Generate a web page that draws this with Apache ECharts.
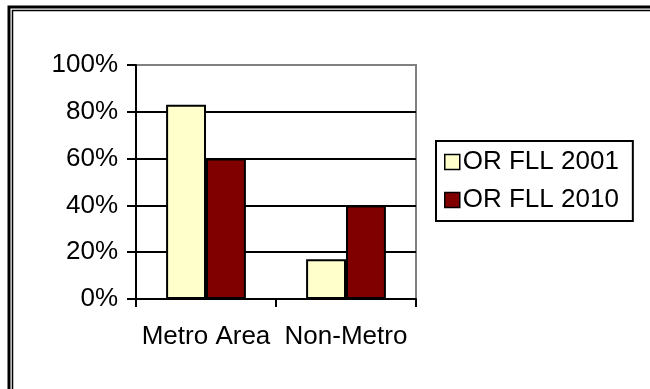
<!DOCTYPE html>
<html>
<head>
<meta charset="utf-8">
<script src="https://cdn.jsdelivr.net/npm/echarts@6/dist/echarts.min.js"></script>
<style>
  html, body { margin: 0; padding: 0; background: #fff; overflow: hidden; }
  #chart { width: 650px; height: 389px; }
</style>
</head>
<body>
<div id="chart"></div>
<script>
// data
var categories = ['Metro Area', 'Non-Metro'];
var seriesNames = ['OR FLL 2001', 'OR FLL 2010'];
var values2001 = [83, 17];
var values2010 = [60, 40];
var yTicks = [0, 20, 40, 60, 80, 100];

var chart = echarts.init(document.getElementById('chart'));

var font = 'Liberation Sans, Arial, sans-serif';

var option = {
  animation: false,
  textStyle: { fontFamily: font, color: '#000' },
  graphic: [
    // double border at the top / left (picture is cropped on the other sides)
    { type: 'polyline', shape: { points: [[9, 389], [9, 7], [650, 7]] },
      style: { fill: null, stroke: '#000', lineWidth: 3 }, silent: true },
    { type: 'polyline', shape: { points: [[12.5, 389], [12.5, 10.5], [650, 10.5]] },
      style: { fill: null, stroke: '#000', lineWidth: 1.5 }, silent: true }
  ],
  grid: {
    left: 136, right: 234, top: 65, bottom: 90,
    show: true, borderColor: '#808080', borderWidth: 2,
    backgroundColor: '#fff'
  },
  legend: {
    orient: 'vertical',
    left: 436, top: 141,
    data: seriesNames,
    itemWidth: 15, itemHeight: 15,
    itemGap: 8,
    itemStyle: { borderColor: '#000', borderWidth: 1.5 },
    padding: [6, 14, 6, 8],
    borderColor: '#000', borderWidth: 2,
    icon: 'rect',
    textStyle: { fontSize: 26, fontFamily: font, color: '#000', lineHeight: 30, padding: [0, 0, 0, -2] }
  },
  xAxis: {
    type: 'category',
    data: categories,
    axisLine: { lineStyle: { color: '#000', width: 2 } },
    axisTick: { show: true, interval: 0, length: 8, lineStyle: { color: '#000', width: 2 } },
    axisLabel: { interval: 0, fontSize: 26, fontFamily: font, color: '#000', margin: 25 }
  },
  yAxis: {
    type: 'value',
    min: yTicks[0], max: yTicks[yTicks.length - 1], interval: 20,
    axisLine: { show: true, lineStyle: { color: '#000', width: 2 } },
    axisTick: { show: true, inside: false, length: 9, lineStyle: { color: '#000', width: 2 } },
    axisLabel: { fontSize: 26, fontFamily: font, color: '#000', margin: 18,
      formatter: function (v) { return v + '%'; } },
    splitLine: { show: true, lineStyle: { color: ['#000', '#000', '#000', '#000', '#000', '#808080'], width: 2 } }
  },
  series: [
    {
      name: seriesNames[0], type: 'bar', data: values2001,
      barGap: '0%', barCategoryGap: '43%',
      itemStyle: { color: '#FFFFCC', borderColor: '#000', borderWidth: 2 }
    },
    {
      name: seriesNames[1], type: 'bar', data: values2010,
      itemStyle: { color: '#800000', borderColor: '#000', borderWidth: 2 }
    }
  ]
};

chart.setOption(option);
</script>
</body>
</html>
